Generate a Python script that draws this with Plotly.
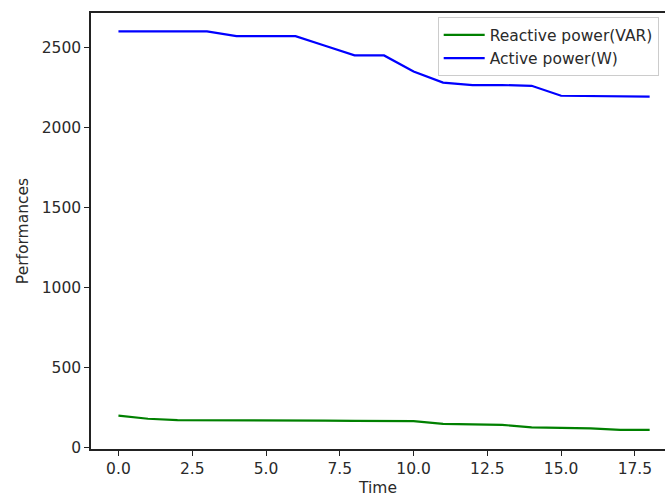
import plotly.graph_objects as go

time = list(range(19))
reactive = [200, 180, 172, 172, 171, 170, 170, 168, 167, 166, 165, 148, 147, 142, 126, 124, 120, 110, 110]
active = [2600, 2600, 2600, 2600, 2570, 2570, 2570, 2510, 2450, 2450, 2350, 2280, 2265, 2265, 2260, 2198, 2196, 2194, 2192]

x_ticks = [0, 2.5, 5, 7.5, 10, 12.5, 15, 17.5]
x_tick_text = ["0.0", "2.5", "5.0", "7.5", "10.0", "12.5", "15.0", "17.5"]
y_ticks = [0, 500, 1000, 1500, 2000, 2500]

font = dict(family="DejaVu Sans", size=15.5, color="#2a2a2a")

fig = go.Figure()
fig.add_trace(go.Scatter(x=time, y=reactive, mode="lines", name="Reactive power(VAR)",
                         line=dict(color="#008000", width=2.2)))
fig.add_trace(go.Scatter(x=time, y=active, mode="lines", name="Active power(W)",
                         line=dict(color="#0000ff", width=2.2)))

fig.update_layout(
    width=665, height=500,
    margin=dict(l=91, r=0, t=13, b=51),
    paper_bgcolor="white", plot_bgcolor="white",
    font=font,
    showlegend=True,
    legend=dict(x=0.604, y=0.99, xanchor="left", yanchor="top",
                bordercolor="#cccccc", borderwidth=1, bgcolor="rgba(255,255,255,0.9)",
                font=font, tracegroupgap=0, itemwidth=41),
    xaxis=dict(range=[-0.93, 18.52], tickvals=x_ticks, ticktext=x_tick_text,
               showgrid=False, zeroline=False, showline=True, mirror=True,
               linecolor="#222", linewidth=1.5, ticks="outside", ticklen=5,
               tickcolor="#222", tickfont=font,
               title=dict(text="Time", font=font, standoff=5)),
    yaxis=dict(range=[-9, 2715], tickvals=y_ticks,
               showgrid=False, zeroline=False, showline=True, mirror=False,
               linecolor="#222", linewidth=1.5, ticks="outside", ticklen=5,
               tickcolor="#222", tickfont=font,
               title=dict(text="Performances", font=font, standoff=9)),
)

fig.write_html("out.html")
